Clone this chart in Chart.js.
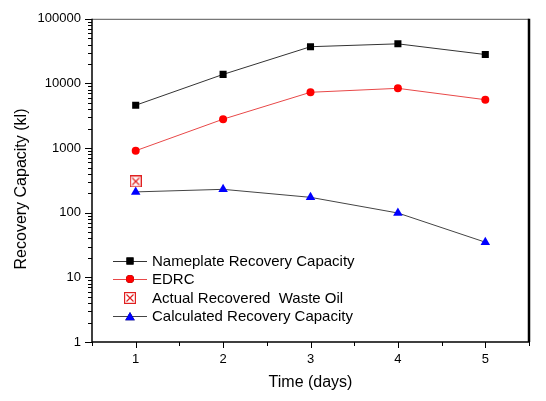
<!DOCTYPE html>
<html>
<head>
<meta charset="utf-8">
<script src="https://cdn.jsdelivr.net/npm/chart.js@4.4.1/dist/chart.umd.min.js"></script>
<style>
  html, body { margin: 0; padding: 0; background: #fff; }
  #wrap { width: 546px; height: 401px; }
</style>
</head>
<body>
<div id="wrap"><canvas id="chart" width="546" height="401"></canvas></div>
<script>
// Data
const days = [1, 2, 3, 4, 5];
const nameplate = [4600, 13800, 37000, 41000, 28000];
const edrc = [910, 2800, 7300, 8400, 5600];
const actualDays = [1];
const actual = [305];
const calculated = [210, 230, 173, 99, 35];
const yTickValues = [1, 10, 100, 1000, 10000, 100000];
const xTickValues = [1, 2, 3, 4, 5];

const FONT = "Arial, 'Liberation Sans', sans-serif";

// Hollow square with an X, used for the "Actual" marker
function boxCross(size, color) {
  const c = document.createElement("canvas");
  c.width = size; c.height = size;
  const g = c.getContext("2d");
  g.strokeStyle = color;
  g.lineWidth = 1.2;
  g.strokeRect(0.6, 0.6, size - 1.2, size - 1.2);
  g.beginPath();
  g.moveTo(2.5, 2.5); g.lineTo(size - 2.5, size - 2.5);
  g.moveTo(size - 2.5, 2.5); g.lineTo(2.5, size - 2.5);
  g.stroke();
  return c;
}
const boxMarker = boxCross(12, "#e02020");

const toPoints = (xs, ys) => xs.map((x, i) => ({ x, y: ys[i] }));

// Log minor ticks: 1..9 times each decade
function logTicks(min, max) {
  const out = [];
  for (let d = min; d < max; d *= 10) {
    for (let m = 1; m < 10; m++) out.push(d * m);
  }
  out.push(max);
  return out;
}

// Draw frame, tick marks, legend and y title
const decorPlugin = {
  id: "decor",
  afterDraw(chart) {
    const { ctx, chartArea: a, scales } = chart;
    const xs = scales.x, ys = scales.y;
    ctx.save();

    // frame
    ctx.strokeStyle = "#555";
    ctx.lineWidth = 1;
    ctx.beginPath();
    ctx.moveTo(a.left, a.top + 0.5); ctx.lineTo(a.right, a.top + 0.5);
    ctx.stroke();
    ctx.strokeStyle = "#000";
    ctx.lineWidth = 2.5;
    ctx.beginPath();
    ctx.moveTo(a.right, a.top); ctx.lineTo(a.right, a.bottom);
    ctx.stroke();
    ctx.lineWidth = 1.5;
    ctx.beginPath();
    ctx.moveTo(a.left, a.top); ctx.lineTo(a.left, a.bottom);
    ctx.lineTo(a.right, a.bottom);
    ctx.stroke();

    // y ticks (outward)
    ctx.strokeStyle = "#000";
    ctx.lineWidth = 1;
    logTicks(1, 100000).forEach(v => {
      const y = Math.round(ys.getPixelForValue(v)) + 0.5;
      const major = yTickValues.includes(v);
      ctx.beginPath();
      ctx.moveTo(a.left - (major ? 7 : 4), y);
      ctx.lineTo(a.left, y);
      ctx.stroke();
    });
    // x ticks (outward)
    for (let v = 0.5; v <= 5.5; v += 0.5) {
      const x = Math.round(xs.getPixelForValue(v)) + 0.5;
      const major = xTickValues.includes(v);
      ctx.beginPath();
      ctx.moveTo(x, a.bottom);
      ctx.lineTo(x, a.bottom + (major ? 6 : 4));
      ctx.stroke();
    }

    // y title
    ctx.fillStyle = "#000";
    ctx.font = "16px " + FONT;
    ctx.textAlign = "center";
    ctx.textBaseline = "middle";
    ctx.translate(22, 189);
    ctx.rotate(-Math.PI / 2);
    ctx.fillText("Recovery Capacity (kl)", 0, 0);
    ctx.setTransform(1, 0, 0, 1, 0, 0);

    // legend
    const rows = [261, 279, 298, 316];
    const lx0 = 113, lx1 = 147, mx = 130, tx = 152;
    ctx.font = "15px " + FONT;
    ctx.textAlign = "left";
    chart.data.datasets.forEach((ds, i) => {
      const y = rows[i];
      if (ds.showLine !== false) {
        ctx.strokeStyle = ds.borderColor;
        ctx.lineWidth = 1;
        ctx.beginPath();
        ctx.moveTo(lx0, y + 0.5); ctx.lineTo(lx1, y + 0.5);
        ctx.stroke();
      }
      if (ds.pointStyle instanceof HTMLCanvasElement) {
        const s = ds.pointStyle;
        ctx.drawImage(s, mx - s.width / 2, y - s.height / 2);
      } else {
        Chart.helpers.drawPoint(ctx, {
          pointStyle: ds.pointStyle,
          radius: ds.pointRadius,
          rotation: 0,
          borderWidth: 0
        }, mx, ds.pointStyle === "triangle" ? y + 1.5 : y);
        ctx.fillStyle = ds.pointBackgroundColor;
        ctx.fill();
      }
      ctx.fillStyle = "#000";
      ctx.fillText(ds.label, tx, y + 1);
    });
    ctx.restore();
  }
};

new Chart(document.getElementById("chart"), {
  type: "line",
  data: {
    datasets: [
      {
        label: "Nameplate Recovery Capacity",
        data: toPoints(days, nameplate),
        borderColor: "#333",
        borderWidth: 1,
        pointStyle: "rect",
        pointRadius: 5,
        pointBackgroundColor: "#000",
        pointBorderWidth: 0
      },
      {
        label: "EDRC",
        data: toPoints(days, edrc),
        borderColor: "#e84848",
        borderWidth: 1,
        pointStyle: "circle",
        pointRadius: 4,
        pointBackgroundColor: "#ff0000",
        pointBorderWidth: 0
      },
      {
        label: "Actual Recovered  Waste Oil",
        data: toPoints(actualDays, actual),
        showLine: false,
        borderColor: "#e02020",
        pointStyle: boxMarker,
        pointRadius: 6
      },
      {
        label: "Calculated Recovery Capacity",
        data: toPoints(days, calculated),
        borderColor: "#444",
        borderWidth: 1,
        pointStyle: "triangle",
        pointRadius: 5.5,
        pointBackgroundColor: "#0000ff",
        pointBorderWidth: 0
      }
    ]
  },
  options: {
    responsive: false,
    animation: false,
    events: [],
    layout: { padding: { top: 16, right: 17, left: 0, bottom: 0 } },
    plugins: { legend: { display: false }, tooltip: { enabled: false } },
    scales: {
      x: {
        type: "linear",
        min: 0.5,
        max: 5.5,
        grid: { display: false, drawTicks: false },
        border: { display: false },
        afterBuildTicks: s => { s.ticks = xTickValues.map(v => ({ value: v })); },
        ticks: {
          padding: 10,
          color: "#000",
          font: { family: FONT, size: 13 },
          maxRotation: 0
        },
        title: {
          display: true,
          text: "Time (days)",
          color: "#000",
          font: { family: FONT, size: 16 },
          padding: { top: 0, bottom: 9 }
        },
        afterFit: s => { s.height = 59; }
      },
      y: {
        type: "logarithmic",
        min: 1,
        max: 100000,
        grid: { display: false, drawTicks: false },
        border: { display: false },
        afterBuildTicks: s => { s.ticks = yTickValues.map(v => ({ value: v })); },
        ticks: {
          padding: 11,
          color: "#000",
          font: { family: FONT, size: 13 },
          callback: v => String(v)
        },
        afterFit: s => { s.width = 92; }
      }
    }
  },
  plugins: [decorPlugin]
});
</script>
</body>
</html>
